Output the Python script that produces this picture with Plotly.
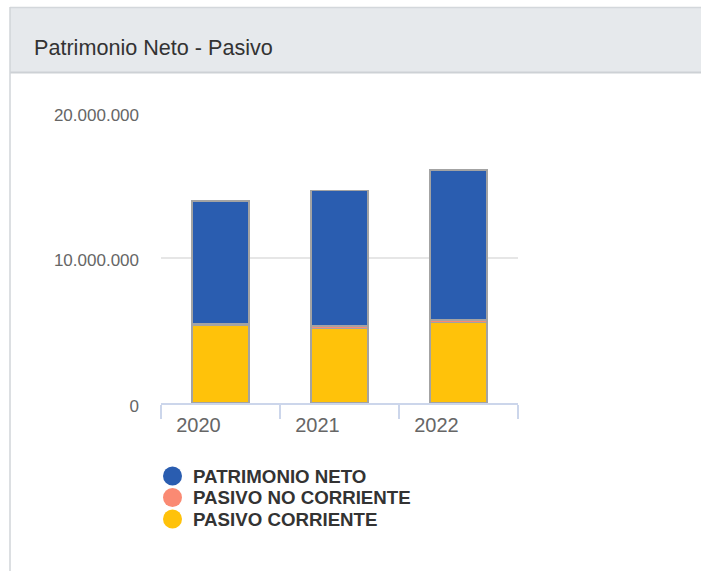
import plotly.graph_objects as go

# ---- data ----
years = ["2020", "2021", "2022"]
pasivo_corriente = [5360000, 5110000, 5520000]
pasivo_no_corriente = [70000, 180000, 180000]
patrimonio_neto = [8450000, 9330000, 10310000]
y_ticks = [0, 10000000, 20000000]
legend_names = ["PATRIMONIO NETO", "PASIVO NO CORRIENTE", "PASIVO CORRIENTE"]
legend_colors = ["#2a5db0", "#fa8a73", "#ffc20a"]
title_text = "Patrimonio Neto - Pasivo"

# ---- layout constants (pixels) ----
W, H = 701, 571
PL, PR, PT, PB = 161, 518, 112, 403  # plot area edges

def px_x(px):
    return (px - PL) / (PR - PL)

def px_y(py):
    return (PB - py) / (PB - PT)

FONT = "Liberation Sans, Arial, sans-serif"

fig = go.Figure()
series = [
    ("PASIVO CORRIENTE", pasivo_corriente, legend_colors[2]),
    ("PASIVO NO CORRIENTE", pasivo_no_corriente, legend_colors[1]),
    ("PATRIMONIO NETO", patrimonio_neto, legend_colors[0]),
]
for name, vals, col in series:
    fig.add_trace(go.Bar(
        x=years, y=vals, name=name, width=0.48,
        marker=dict(color=col, line=dict(color="#a3a3a3", width=1.5)),
        showlegend=False,
    ))

shapes = []
# header band
shapes.append(dict(type="rect", xref="paper", yref="paper",
                   x0=px_x(10), x1=px_x(705), y0=px_y(73), y1=px_y(7),
                   fillcolor="#e6e9ec", line=dict(width=0), layer="below"))
shapes.append(dict(type="line", xref="paper", yref="paper",
                   x0=px_x(10), x1=px_x(705), y0=px_y(7.5), y1=px_y(7.5),
                   line=dict(color="#d3d7db", width=1.5)))
shapes.append(dict(type="line", xref="paper", yref="paper",
                   x0=px_x(10), x1=px_x(705), y0=px_y(72.5), y1=px_y(72.5),
                   line=dict(color="#cdd1d5", width=2)))
shapes.append(dict(type="line", xref="paper", yref="paper",
                   x0=px_x(10), x1=px_x(10), y0=px_y(7), y1=px_y(575),
                   line=dict(color="#d0d4d8", width=1.5)))

annotations = [dict(text=title_text, xref="paper", yref="paper",
                    x=px_x(31.5), y=px_y(48), xanchor="left", yanchor="middle",
                    showarrow=False,
                    font=dict(family=FONT, size=21.6, color="#333333"))]

# manual legend
row_y = [476, 497.5, 519]
r = 9.5
for name, col, cy in zip(legend_names, legend_colors, row_y):
    shapes.append(dict(type="circle", xref="paper", yref="paper",
                       x0=px_x(172.5 - r), x1=px_x(172.5 + r),
                       y0=px_y(cy + r), y1=px_y(cy - r),
                       fillcolor=col, line=dict(width=0)))
    annotations.append(dict(text="<b>" + name + "</b>", xref="paper", yref="paper",
                            x=px_x(191), y=px_y(cy), xanchor="left", yanchor="middle",
                            showarrow=False,
                            font=dict(family=FONT, size=18.7, color="#333333")))

fig.update_layout(
    width=W, height=H,
    margin=dict(l=PL, r=W - PR, t=PT, b=H - PB, pad=0),
    paper_bgcolor="white", plot_bgcolor="white",
    barmode="stack", bargap=0.52,
    separators=",.",
    font=dict(family=FONT, color="#666666"),
    showlegend=False,
    shapes=shapes, annotations=annotations,
    xaxis=dict(type="category", showline=True, linecolor="#ccd6eb", linewidth=1.5,
               ticks="outside", ticklen=14, tickcolor="#ccd6eb", tickwidth=1.5,
               tickson="boundaries", showgrid=False,
               ticklabelshift=-22, ticklabelstandoff=3,
               tickfont=dict(size=20, color="#666666"), fixedrange=True),
    yaxis=dict(range=[0, 20000000], tickvals=y_ticks, tickformat=",d",
               showgrid=True, gridcolor="#e6e6e6", gridwidth=1.5, zeroline=False,
               showline=False, ticks="", ticklabelstandoff=21, ticklabelshift=3,
               tickfont=dict(size=17, color="#666666"), fixedrange=True),
)

fig.write_html(
    "out.html",
    config={"displayModeBar": False},
    post_script="document.body.style.margin='0px';document.body.style.overflow='hidden';",
)
